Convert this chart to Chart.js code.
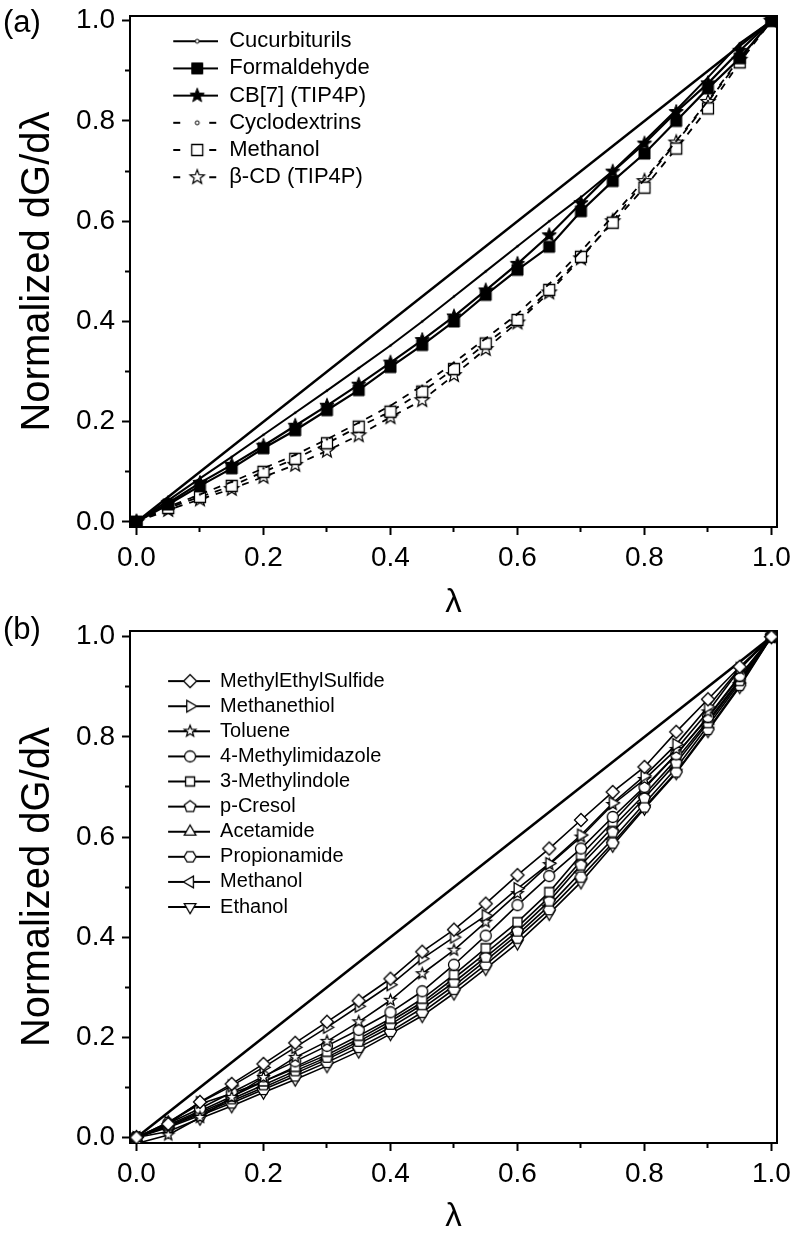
<!DOCTYPE html>
<html>
<head>
<meta charset="utf-8">
<script src="https://cdn.jsdelivr.net/npm/chart.js@4.4.1/dist/chart.umd.min.js"></script>
<style>
  html, body { margin: 0; padding: 0; background: #fff; }
  body { width: 792px; height: 1233px; position: relative; overflow: hidden;
         font-family: "Liberation Sans", Arial, sans-serif; }
  canvas { position: absolute; left: 0; }
  #chart-a { top: 0; }
  #chart-b { top: 616px; }
  .tag { position: absolute; left: 3px; font-size: 31px; line-height: 31px; color: #000; }
</style>
</head>
<body>
<canvas id="chart-a" width="792" height="616"></canvas>
<canvas id="chart-b" width="792" height="617"></canvas>
<div class="tag" style="top:6px">(a)</div>
<div class="tag" style="top:613px">(b)</div>
<script>
/* ── Données ─────────────────────────────────────────────── */
const lambda = [0, 0.05, 0.1, 0.15, 0.2, 0.25, 0.3, 0.35, 0.4, 0.45, 0.5,
                0.55, 0.6, 0.65, 0.7, 0.75, 0.8, 0.85, 0.9, 0.95, 1.0];
const diagX = [0, 1];
const diagY = [0, 1];
const majorTicks = [0, 0.2, 0.4, 0.6, 0.8, 1.0];
const minorTicks = [0.1, 0.3, 0.5, 0.7, 0.9];

// panneau (a)
const cucurbiturils = [0, 0.043, 0.087, 0.13, 0.174, 0.218, 0.262, 0.307, 0.352, 0.4, 0.45,
                       0.5, 0.55, 0.6, 0.648, 0.7, 0.76, 0.822, 0.887, 0.955, 1];
const formaldehyde  = [0, 0.035, 0.072, 0.107, 0.147, 0.183, 0.223, 0.263, 0.309, 0.353, 0.4,
                       0.453, 0.503, 0.549, 0.62, 0.68, 0.735, 0.8, 0.865, 0.925, 1];
const cb7Tip4p      = [0, 0.038, 0.078, 0.114, 0.152, 0.192, 0.232, 0.274, 0.318, 0.363, 0.41,
                       0.462, 0.515, 0.572, 0.636, 0.699, 0.755, 0.818, 0.875, 0.94, 1];
const cyclodextrins = [0, 0.03, 0.055, 0.08, 0.107, 0.134, 0.165, 0.198, 0.232, 0.272, 0.318,
                       0.366, 0.415, 0.475, 0.54, 0.61, 0.683, 0.76, 0.84, 0.925, 1];
const methanolA     = [0, 0.028, 0.05, 0.072, 0.1, 0.126, 0.157, 0.19, 0.22, 0.26, 0.305,
                       0.356, 0.403, 0.463, 0.529, 0.597, 0.667, 0.745, 0.825, 0.917, 1];
const betaCdTip4p   = [0, 0.024, 0.045, 0.066, 0.09, 0.114, 0.142, 0.173, 0.209, 0.243, 0.293,
                       0.345, 0.398, 0.458, 0.526, 0.6, 0.68, 0.757, 0.838, 0.922, 1];

// panneau (b)
const methylEthylSulfide = [0, 0.027, 0.071, 0.107, 0.147, 0.189, 0.231, 0.273, 0.317, 0.371, 0.415,
                            0.467, 0.524, 0.577, 0.634, 0.69, 0.74, 0.81, 0.875, 0.94, 1];
const methanethiol  = [0, 0.03, 0.07, 0.103, 0.14, 0.18, 0.22, 0.262, 0.305, 0.357, 0.4,
                       0.443, 0.497, 0.547, 0.604, 0.668, 0.722, 0.785, 0.86, 0.937, 1];
const toluene       = [-0.012, 0.005, 0.04, 0.08, 0.12, 0.16, 0.192, 0.231, 0.274, 0.327, 0.374,
                       0.43, 0.487, 0.545, 0.6, 0.665, 0.715, 0.775, 0.85, 0.935, 1];
const methylimidazole = [0, 0.028, 0.058, 0.09, 0.122, 0.152, 0.183, 0.215, 0.25, 0.292, 0.345,
                         0.403, 0.464, 0.522, 0.577, 0.64, 0.7, 0.765, 0.84, 0.922, 1];
const methylindole  = [0, 0.025, 0.053, 0.082, 0.112, 0.141, 0.171, 0.203, 0.237, 0.277, 0.325,
                       0.378, 0.43, 0.49, 0.564, 0.63, 0.697, 0.765, 0.838, 0.92, 1];
const pCresol       = [0, 0.023, 0.05, 0.077, 0.105, 0.133, 0.16, 0.192, 0.226, 0.265, 0.31,
                       0.36, 0.412, 0.472, 0.544, 0.61, 0.678, 0.748, 0.828, 0.912, 1];
const acetamide     = [0, 0.03, 0.067, 0.088, 0.112, 0.138, 0.165, 0.197, 0.232, 0.27, 0.318,
                       0.368, 0.42, 0.48, 0.552, 0.62, 0.685, 0.755, 0.832, 0.915, 1];
const propionamide  = [0, 0.02, 0.044, 0.069, 0.096, 0.123, 0.15, 0.18, 0.212, 0.25, 0.296,
                       0.345, 0.398, 0.455, 0.52, 0.588, 0.66, 0.73, 0.815, 0.903, 1];
const methanolB     = [0, 0.022, 0.047, 0.073, 0.1, 0.128, 0.156, 0.187, 0.22, 0.258, 0.303,
                       0.353, 0.405, 0.463, 0.53, 0.596, 0.667, 0.738, 0.822, 0.908, 1];
const ethanol       = [0, 0.012, 0.038, 0.063, 0.09, 0.116, 0.143, 0.172, 0.207, 0.243, 0.288,
                       0.337, 0.388, 0.447, 0.51, 0.583, 0.657, 0.728, 0.812, 0.9, 1];

const FONT = '"Liberation Sans", Arial, sans-serif';
const X_MIN = -0.0102, X_MAX = 1.0087;

/* ── Symboles ────────────────────────────────────────────── */
const POLY = {
  square:   [4, Math.PI / 4, Math.SQRT2],
  diamond:  [4, -Math.PI / 2, 1],
  triUp:    [3, -Math.PI / 2, 1.12],
  triDown:  [3, Math.PI / 2, 1.12],
  triLeft:  [3, Math.PI, 1.12],
  triRight: [3, 0, 1.12],
  pentagon: [5, -Math.PI / 2, 1],
  hexagon:  [6, 0, 1],
};

function drawShape(g, shape, size, fill, lw) {
  const r = size / 2;
  g.beginPath();
  if (shape === 'circle') {
    g.arc(0, 0, r, 0, Math.PI * 2);
  } else if (shape === 'star') {
    for (let i = 0; i < 10; i++) {
      const a = -Math.PI / 2 + i * Math.PI / 5, rr = i % 2 ? r * 0.42 : r;
      g.lineTo(rr * Math.cos(a), rr * Math.sin(a));
    }
    g.closePath();
  } else {
    const [n, a0, k] = POLY[shape];
    for (let i = 0; i < n; i++) {
      const a = a0 + i * 2 * Math.PI / n;
      g.lineTo(r * k * Math.cos(a), r * k * Math.sin(a));
    }
    g.closePath();
  }
  g.fillStyle = fill;
  g.fill();
  g.lineWidth = lw;
  g.strokeStyle = '#000';
  g.stroke();
}

function markerImg(shape, size, fill, lw) {
  const c = document.createElement('canvas');
  const d = Math.ceil(size * 1.15 + lw * 2 + 2);
  c.width = c.height = d;
  const g = c.getContext('2d');
  g.translate(d / 2, d / 2);
  drawShape(g, shape, size, fill, lw);
  return c;
}

// trait + symbole pour la légende
function legendImg(m, boxW, x0, mx, lineW, dashed) {
  const c = document.createElement('canvas');
  c.width = boxW; c.height = 22;
  const g = c.getContext('2d');
  const y = 11;
  g.strokeStyle = '#000';
  g.lineWidth = lineW;
  g.beginPath();
  if (dashed) {
    g.moveTo(x0, y); g.lineTo(x0 + 7, y);
    g.moveTo(boxW - 9, y); g.lineTo(boxW - 2, y);
  } else {
    g.moveTo(x0, y); g.lineTo(boxW, y);
  }
  g.stroke();
  g.save();
  g.translate(mx, y);
  drawShape(g, m.shape, m.size, m.fill, m.lw);
  g.restore();
  return c;
}

const pts = (xs, ys) => xs.map((x, i) => ({ x, y: ys[i] }));

/* ── Axes ────────────────────────────────────────────────── */
const setTicks = list => s => { s.ticks = list.map(v => ({ value: v })); };
const noPad = s => { s.paddingLeft = s.paddingRight = s.paddingTop = s.paddingBottom = 0; };

function makeScales(yMin, yMax, xHeight, xTitlePad) {
  const tickFont = { family: FONT, size: 28, lineHeight: 1.2 };
  const minorGrid = { drawOnChartArea: false, tickLength: 5, tickWidth: 2, tickColor: '#000' };
  const majorGrid = { drawOnChartArea: false, tickLength: 8, tickWidth: 2, tickColor: '#000' };
  const frame = { display: true, color: '#000', width: 2 };
  return {
    x: {
      type: 'linear', position: 'bottom', min: X_MIN, max: X_MAX, weight: 0,
      afterBuildTicks: setTicks(majorTicks),
      afterFit: s => { s.height = xHeight; noPad(s); },
      border: frame, grid: majorGrid,
      ticks: { padding: 6, color: '#000', font: tickFont, maxRotation: 0,
               autoSkip: false, callback: v => v.toFixed(1) },
      title: { display: true, text: 'λ', color: '#000',
               font: { family: FONT, size: 33, lineHeight: 0.8 }, padding: { top: 0, bottom: xTitlePad } },
    },
    xMinor: {
      type: 'linear', position: 'bottom', min: X_MIN, max: X_MAX, weight: -1,
      afterBuildTicks: setTicks(minorTicks),
      afterFit: s => { s.height = 0; noPad(s); },
      border: { display: false }, grid: minorGrid,
      ticks: { display: false },
    },
    xTop: {
      type: 'linear', position: 'top', min: X_MIN, max: X_MAX,
      afterFit: s => { s.height = 0; noPad(s); },
      border: frame, grid: { display: false }, ticks: { display: false },
    },
    y: {
      type: 'linear', position: 'left', min: yMin, max: yMax, weight: 0,
      afterBuildTicks: setTicks(majorTicks),
      afterFit: s => { s.width = 130; noPad(s); },
      border: frame, grid: majorGrid,
      ticks: { padding: 7, color: '#000', font: tickFont, autoSkip: false,
               callback: v => v.toFixed(1) },
      title: { display: true, text: 'Normalized dG/dλ', color: '#000',
               font: { family: FONT, size: 40, lineHeight: 1 }, padding: { top: 18, bottom: 0 } },
    },
    yMinor: {
      type: 'linear', position: 'left', min: yMin, max: yMax, weight: -1,
      afterBuildTicks: setTicks(minorTicks),
      afterFit: s => { s.width = 0; noPad(s); },
      border: { display: false }, grid: minorGrid,
      ticks: { display: false },
    },
    yRight: {
      type: 'linear', position: 'right', min: yMin, max: yMax,
      afterFit: s => { s.width = 0; noPad(s); },
      border: frame, grid: { display: false }, ticks: { display: false },
    },
  };
}

function makeLegend(items, fontSize, pad, boxW, titleH) {
  return {
    position: 'chartArea',
    align: 'start',
    title: { display: true, text: '', padding: 0, font: { size: titleH, lineHeight: 1 } },
    labels: {
      usePointStyle: true, pointStyleWidth: boxW, padding: pad,
      color: '#000', font: { family: FONT, size: fontSize },
      generateLabels: () => items.map((it, i) => ({
        text: it.text, pointStyle: it.img, fontColor: '#000',
        fillStyle: 'rgba(0,0,0,0)', strokeStyle: 'rgba(0,0,0,0)', lineWidth: 0,
        hidden: false, datasetIndex: i,
      })),
    },
  };
}

function series(label, ys, m, extra) {
  return Object.assign({
    label, data: pts(lambda, ys), xAxisID: 'x', yAxisID: 'y',
    borderColor: '#000', borderWidth: 2, pointStyle: markerImg(m.shape, m.size, m.fill, m.lw),
    pointRadius: 6, tension: 0,
  }, extra || {});
}

const baseOpts = {
  responsive: false, animation: false, events: [],
  plugins: { tooltip: { enabled: false } },
};

/* ── Panneau (a) ─────────────────────────────────────────── */
const mA = {
  cucurbiturils: { shape: 'circle', size: 4, fill: '#fff', lw: 1 },
  curveDot:      { shape: 'circle', size: 2, fill: '#000', lw: 0.5 },
  formaldehyde:  { shape: 'square', size: 11, fill: '#000', lw: 1 },
  cb7:           { shape: 'star', size: 15, fill: '#000', lw: 1 },
  cyclodextrins: { shape: 'circle', size: 4, fill: '#fff', lw: 1 },
  methanol:      { shape: 'square', size: 11, fill: '#fff', lw: 1.3 },
  betaCd:        { shape: 'star', size: 15, fill: '#fff', lw: 1.2 },
};
const dash = [7, 7];
const legendA = [
  { text: 'Cucurbiturils', img: legendImg(mA.cucurbiturils, 83, 38, 62, 1.8, false) },
  { text: 'Formaldehyde',  img: legendImg(mA.formaldehyde, 83, 38, 62, 2.2, false) },
  { text: 'CB[7] (TIP4P)', img: legendImg(mA.cb7, 83, 38, 62, 2.2, false) },
  { text: 'Cyclodextrins', img: legendImg(mA.cyclodextrins, 83, 38, 62, 1.8, true) },
  { text: 'Methanol',      img: legendImg(mA.methanol, 83, 38, 62, 1.8, true) },
  { text: 'β-CD (TIP4P)',  img: legendImg(mA.betaCd, 83, 38, 62, 1.8, true) },
];

new Chart(document.getElementById('chart-a'), {
  type: 'line',
  data: {
    datasets: [
      series('Cucurbiturils', cucurbiturils, mA.curveDot, { borderWidth: 2, pointRadius: 1 }),
      series('Formaldehyde', formaldehyde, mA.formaldehyde, { borderWidth: 2.2 }),
      series('CB[7] (TIP4P)', cb7Tip4p, mA.cb7, { borderWidth: 2.2 }),
      series('Cyclodextrins', cyclodextrins, mA.curveDot, { borderWidth: 1.8, borderDash: dash, pointRadius: 1 }),
      series('Methanol', methanolA, mA.methanol, { borderWidth: 1.8, borderDash: dash }),
      series('β-CD (TIP4P)', betaCdTip4p, mA.betaCd, { borderWidth: 1.8, borderDash: dash }),
      { label: 'diag', data: pts(diagX, diagY), xAxisID: 'x', yAxisID: 'y',
        borderColor: '#000', borderWidth: 2.4, pointRadius: 0 },
    ],
  },
  options: Object.assign({}, baseOpts, {
    layout: { padding: { left: 0, top: 16, right: 15, bottom: 0 } },
    scales: makeScales(-0.01, 1.0094, 89, 0),
    plugins: Object.assign({}, baseOpts.plugins, { legend: makeLegend(legendA, 22, 5.2, 83, 25) }),
  }),
});

/* ── Panneau (b) ─────────────────────────────────────────── */
const open = (shape, size) => ({ shape, size, fill: '#fff', lw: 1.3 });
const mB = [
  ['MethylEthylSulfide', methylEthylSulfide, open('diamond', 13)],
  ['Methanethiol',       methanethiol,       open('triRight', 12)],
  ['Toluene',            toluene,            open('star', 12)],
  ['4-Methylimidazole',  methylimidazole,    open('circle', 11)],
  ['3-Methylindole',     methylindole,       open('square', 9)],
  ['p-Cresol',           pCresol,            open('pentagon', 12)],
  ['Acetamide',          acetamide,          open('triUp', 12)],
  ['Propionamide',       propionamide,       open('hexagon', 12)],
  ['Methanol',           methanolB,          open('triLeft', 12)],
  ['Ethanol',            ethanol,            open('triDown', 12)],
];
const legendB = mB.map(([text, , m]) => ({ text, img: legendImg(m, 75, 33, 55, 2, false) }));

new Chart(document.getElementById('chart-b'), {
  type: 'line',
  data: {
    datasets: mB.map(([label, ys, m]) => series(label, ys, m, { borderWidth: 1.6 })).concat([
      { label: 'diag', data: pts(diagX, diagY), xAxisID: 'x', yAxisID: 'y',
        borderColor: '#000', borderWidth: 2.6, pointRadius: 0 },
    ]),
  },
  options: Object.assign({}, baseOpts, {
    layout: { padding: { left: 0, top: 15, right: 15, bottom: 0 } },
    scales: makeScales(-0.011, 1.0114, 90, 3),
    plugins: Object.assign({}, baseOpts.plugins, { legend: makeLegend(legendB, 20, 5.1, 75, 50) }),
  }),
});
</script>
</body>
</html>
